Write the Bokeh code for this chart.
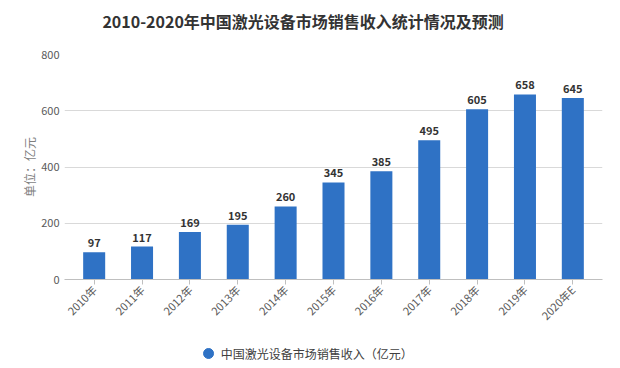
from bokeh.plotting import figure
from bokeh.models import ColumnDataSource, LabelSet, Range1d, FixedTicker, FactorRange
from bokeh.layouts import column
from bokeh.core.properties import value
from bokeh.embed import file_html
from bokeh.resources import INLINE
import math

years = ["2010年", "2011年", "2012年", "2013年", "2014年", "2015年",
         "2016年", "2017年", "2018年", "2019年", "2020年E"]
revenue = [97, 117, 169, 195, 260, 345, 385, 495, 605, 658, 645]
y_ticks = [0, 200, 400, 600, 800]
series_name = "中国激光设备市场销售收入（亿元）"
title_text = "2010-2020年中国激光设备市场销售收入统计情况及预测"
y_label = "单位：亿元"

FONT = "Noto Sans CJK SC"
BAR = "#2f72c5"
W = 620


def blank(height):
    f = figure(width=W, height=height, x_range=Range1d(0, W), y_range=Range1d(0, height),
               output_backend="svg", toolbar_location=None, min_border=0,
               x_axis_location=None, y_axis_location=None)
    f.grid.visible = False
    f.outline_line_color = None
    return f


# title strip
t = blank(40)
t.text(x=[275], y=[20], text=[title_text], text_font=value(FONT), text_font_size="16px",
       text_font_style="bold", text_color="#333333", text_baseline="middle", text_align="center")

# main chart
src = ColumnDataSource(dict(x=years, top=revenue, lab=[str(v) for v in revenue]))
xr = FactorRange(factors=years, range_padding=0.12, range_padding_units="absolute")
p = figure(x_range=xr, y_range=Range1d(0, 800), width=W, height=298,
           output_backend="svg", toolbar_location=None,
           min_border_left=64, min_border_right=18, min_border_top=14, min_border_bottom=59)

p.vbar(x="x", top="top", width=0.46, source=src, color=BAR, line_color=None)

labels = LabelSet(x="x", y="top", text="lab", source=src, y_offset=5, text_align="center",
                  text_font=value(FONT), text_font_size="11px", text_font_style="bold",
                  text_color="#333333")
p.add_layout(labels)

p.outline_line_color = None
p.xgrid.grid_line_color = None
p.ygrid.grid_line_color = "#d9d9d9"
p.yaxis.ticker = FixedTicker(ticks=y_ticks)
p.yaxis.axis_line_color = None
p.yaxis.major_tick_line_color = None
p.yaxis.major_tick_out = 0
p.yaxis.major_tick_in = 0
p.yaxis.minor_tick_line_color = None
p.yaxis.minor_tick_out = 0
p.yaxis.major_label_text_font = FONT
p.yaxis.major_label_text_font_size = "11px"
p.yaxis.major_label_text_color = "#595959"
p.yaxis.major_label_standoff = 5
p.yaxis.axis_label = y_label
p.yaxis.axis_label_text_font = FONT
p.yaxis.axis_label_text_font_size = "12px"
p.yaxis.axis_label_text_font_style = "normal"
p.yaxis.axis_label_text_color = "#7f7f7f"
p.yaxis.axis_label_standoff = 0

p.xaxis.axis_line_color = "#bfbfbf"
p.xaxis.major_tick_line_color = "#bfbfbf"
p.xaxis.major_tick_out = 5
p.xaxis.major_tick_in = 0
p.xaxis.major_label_orientation = math.pi / 4
p.xaxis.major_label_text_font = FONT
p.xaxis.major_label_text_font_size = "11px"
p.xaxis.major_label_text_color = "#595959"
p.xaxis.major_label_standoff = 3

# legend strip
lg = blank(30)
lg.scatter(x=[166], y=[15], size=10, color=BAR, marker="circle")
lg.text(x=[180], y=[15], text=[series_name], text_font=value(FONT), text_font_size="12px",
        text_color="#404040", text_baseline="middle", text_align="left")

layout = column(t, p, lg, spacing=0)
open("out.html", "w").write(file_html(layout, INLINE))
